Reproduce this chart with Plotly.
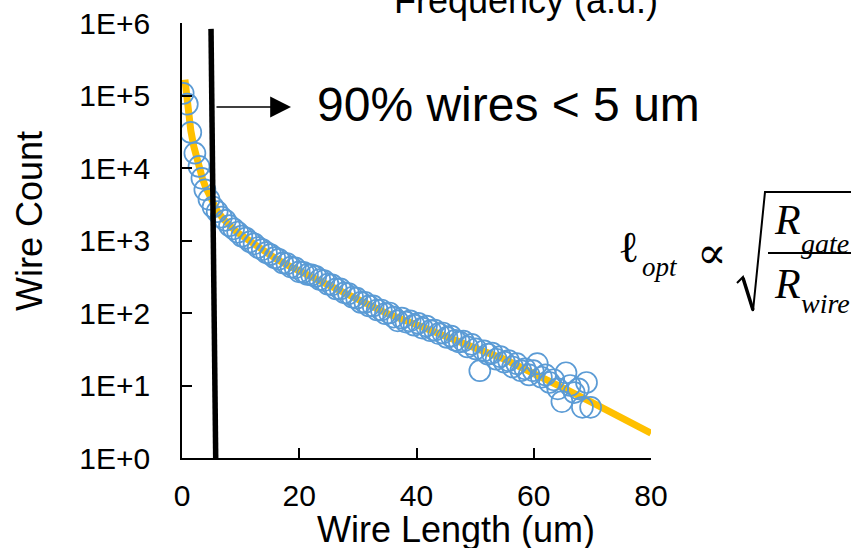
import plotly.graph_objects as go

# ---------------- data ----------------
wire_length = [0.2, 0.9, 1.5, 2.2, 2.9, 3.4, 3.9, 4.6, 5.3,
               6.0, 6.7, 7.4, 8.1, 8.8, 9.5, 10.2, 10.9, 11.6, 12.3, 13.0, 13.7,
               14.4, 15.1, 15.8, 16.5, 17.2, 17.9, 18.6, 19.3, 20.0, 20.7, 21.4,
               22.1, 22.8, 23.5, 24.2, 24.9, 25.6, 26.3, 27.0, 27.7, 28.4, 29.1,
               29.8, 30.5, 31.2, 31.9, 32.6, 33.3, 34.0, 34.7, 35.4, 36.1, 36.8,
               37.5, 38.2, 38.9, 39.6, 40.3, 41.0, 41.7, 42.4, 43.1, 43.8, 44.5,
               45.2, 45.9, 46.6, 47.3, 48.0, 48.7, 49.4, 50.1, 50.8, 51.5, 52.2,
               52.9, 53.6, 54.3, 55.0, 55.7, 56.4, 57.1, 57.8, 58.5, 59.2, 59.9,
               60.6, 61.3, 62.0, 62.7, 63.4, 64.1, 64.8, 65.5, 66.2, 66.9, 67.6,
               68.3, 69.0, 69.7]
wire_count = [107000, 76000, 31000, 16000, 10500, 7200, 5000, 3700, 2900,
              2500, 2100, 1900, 1600, 1450, 1300, 1150, 1080, 960, 900, 800, 750,
              680, 640, 580, 550, 490, 480, 430, 420, 370, 365, 340,
              335, 320, 290, 280, 250, 245, 215, 215, 190, 185, 165,
              160, 140, 140, 125, 125, 110, 110, 98, 100, 88, 78,
              85, 75, 78, 68, 72, 62, 66, 57, 58, 52, 53,
              46, 48, 42, 40, 41, 34, 37, 32, 16, 30, 27,
              28, 23, 25, 21, 22, 18, 20, 16, 17, 14, 16,
              20, 13, 14, 11, 12, 9, 6, 15, 10, 8, 9,
              5, 11, 5]

fit_length = [0.5, 1.0, 1.5, 2.0, 2.5, 3.0, 3.5, 4.0, 5.0, 6.0, 7.0, 8.0, 9.0,
              10, 12, 14, 16, 18, 20, 25, 30, 35, 40, 45, 50, 55, 60, 65, 70, 75, 80]
fit_count = [166000, 63000, 33000, 20000, 13200, 9500, 7100, 5500, 3550, 2570,
             2000, 1620, 1380, 1200, 910, 710, 560, 457, 380, 245, 148, 98, 69,
             49, 33, 23, 15, 9.3, 5.8, 3.5, 2.2]

cutoff_length = [4.95, 5.75]
cutoff_count = [830000, 1]

x_ticks = [0, 20, 40, 60, 80]
y_ticks = [1, 10, 100, 1000, 10000, 100000, 1000000]
y_tick_text = ["1E+0", "1E+1", "1E+2", "1E+3", "1E+4", "1E+5", "1E+6"]

# ---------------- layout helpers ----------------
W, H = 851, 548
PL, PR, PT, PB = 182, 651, 23, 458


def fx(px):
    return (px - PL) / (PR - PL)


def fy(py):
    return (PB - py) / (PB - PT)


SANS = "Arial, Liberation Sans, sans-serif"
SERIF = "Times New Roman, Liberation Serif, serif"

fig = go.Figure()

fig.add_trace(go.Scatter(
    x=fit_length, y=fit_count, mode="lines",
    line=dict(color="#FFC000", width=7), hoverinfo="skip"))

fig.add_trace(go.Scatter(
    x=wire_length, y=wire_count, mode="markers",
    marker=dict(symbol="circle-open", size=21, color="#5B9BD5",
                line=dict(color="#5B9BD5", width=1.7))))

fig.add_trace(go.Scatter(
    x=cutoff_length, y=cutoff_count, mode="lines",
    line=dict(color="black", width=5.5), hoverinfo="skip"))

axis_common = dict(
    showline=True, linecolor="black", linewidth=1.5,
    ticks="inside", ticklen=10, tickwidth=1.5, tickcolor="black",
    showgrid=False, zeroline=False, automargin=False,
    tickfont=dict(family=SANS, size=30, color="black"),
)

fig.update_xaxes(range=[0, 80], tickvals=x_ticks, ticklabelstandoff=10, **axis_common)
fig.update_yaxes(type="log", range=[0, 6], tickvals=y_ticks, ticktext=y_tick_text,
                 ticklabelstandoff=24, **axis_common)

annotations = [
    dict(text="Wire Count", x=fx(29), y=fy(221), textangle=-90,
         font=dict(family=SANS, size=36, color="black")),
    dict(text="Wire Length (um)", x=fx(456), y=fy(529),
         font=dict(family=SANS, size=36, color="black")),
    dict(text="Frequency (a.u.)", x=fx(526), y=fy(0),
         font=dict(family=SANS, size=36, color="black")),
    dict(text="90% wires < 5 um", x=fx(315), y=fy(104), xanchor="left",
         font=dict(family=SANS, size=48, color="black")),
    # formula
    dict(text="ℓ", x=fx(628), y=fy(248),
         font=dict(family=SERIF, size=44, color="black")),
    dict(text="<i>opt</i>", x=fx(660), y=fy(267),
         font=dict(family=SERIF, size=27, color="black")),
    dict(text="∝", x=fx(712), y=fy(252),
         font=dict(family="DejaVu Serif, serif", size=44, color="black")),
    dict(text="<i>R</i>", x=fx(787), y=fy(220),
         font=dict(family=SERIF, size=42, color="black")),
    dict(text="<i>gate</i>", x=fx(799), y=fy(243), xanchor="left",
         font=dict(family=SERIF, size=28, color="black")),
    dict(text="<i>R</i>", x=fx(787), y=fy(284),
         font=dict(family=SERIF, size=42, color="black")),
    dict(text="<i>wire</i>", x=fx(799), y=fy(303), xanchor="left",
         font=dict(family=SERIF, size=28, color="black")),
]
for a in annotations:
    a.setdefault("xref", "paper")
    a.setdefault("yref", "paper")
    a.setdefault("showarrow", False)
    a.setdefault("xanchor", "center")
    a.setdefault("yanchor", "middle")

# arrow
annotations.append(dict(
    x=fx(291), y=fy(107), xref="paper", yref="paper", text="",
    showarrow=True, ax=-76, ay=0, arrowhead=2, arrowsize=2.6,
    arrowwidth=1.6, arrowcolor="black", standoff=0))

shapes = [
    dict(type="path", xref="paper", yref="paper",
         path="M {} {} L {} {} L {} {} L {} {} L {} {}".format(
             fx(737), fy(283), fx(743), fy(277), fx(753), fy(311),
             fx(765), fy(192), fx(860), fy(192)),
         line=dict(color="black", width=2)),
    dict(type="line", xref="paper", yref="paper",
         x0=fx(743), y0=fy(278), x1=fx(753), y1=fy(310),
         line=dict(color="black", width=3.5)),
    dict(type="line", xref="paper", yref="paper",
         x0=fx(768), x1=fx(860), y0=fy(253), y1=fy(253),
         line=dict(color="black", width=2)),
]

fig.update_layout(
    width=W, height=H,
    margin=dict(l=PL, r=W - PR, t=PT, b=H - PB, pad=0),
    plot_bgcolor="white", paper_bgcolor="white",
    showlegend=False,
    annotations=annotations, shapes=shapes,
)

fig.write_html("out.html")
